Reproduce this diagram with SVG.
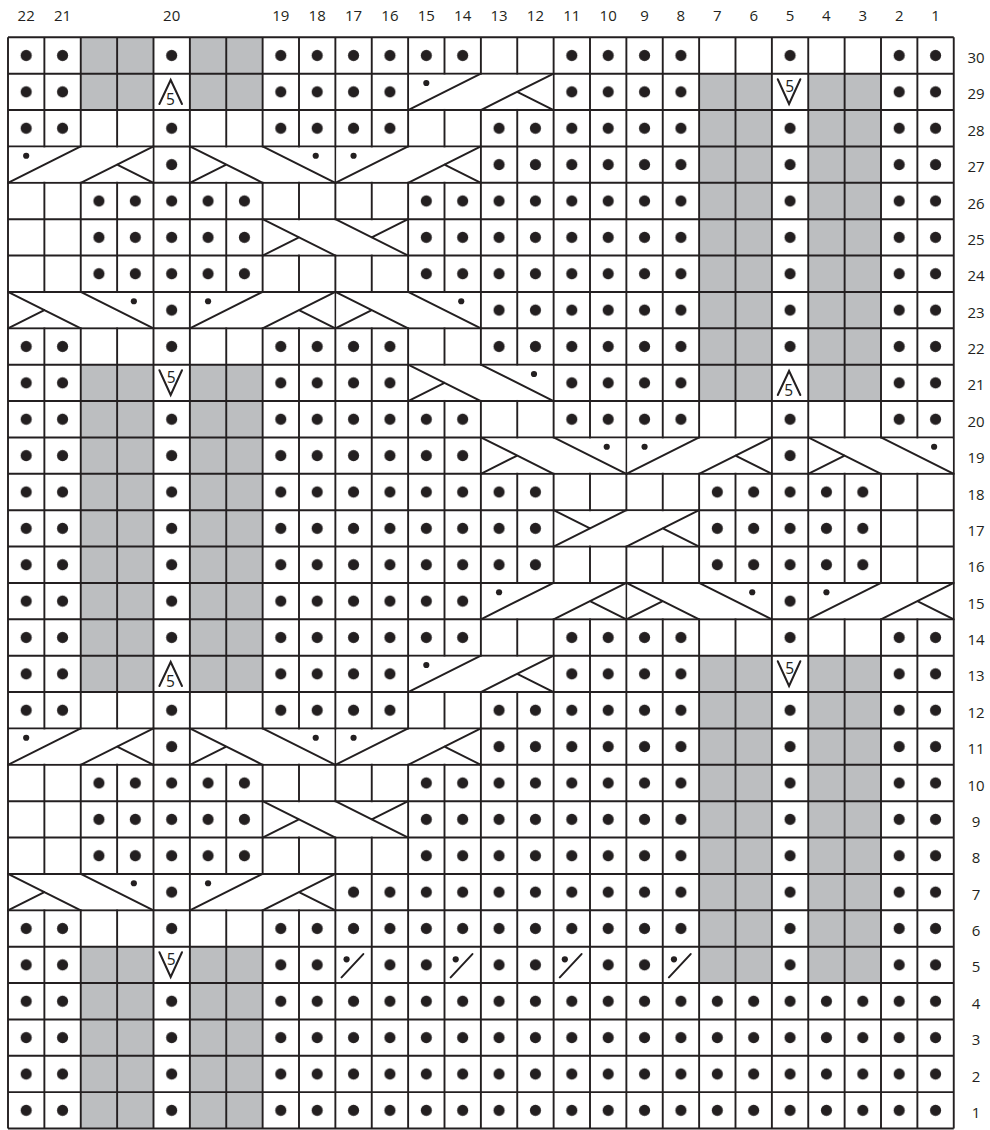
<svg xmlns="http://www.w3.org/2000/svg" xmlns:xlink="http://www.w3.org/1999/xlink" width="990" height="1130" viewBox="0 0 990 1130">
<style>
.lbl{font-family:"Open Sans","Liberation Sans",sans-serif;font-size:15px;fill:#231f20;text-anchor:middle}
.five{font-family:"Open Sans","Liberation Sans",sans-serif;font-size:15.5px;fill:#231f20;text-anchor:middle}
.g{fill:#bcbec0}
.dr{fill:url(#dots)}
.grid{fill:none;stroke:#231f20;stroke-width:1.9;vector-effect:non-scaling-stroke}
.cv{fill:#fff}
.cb{fill:none;stroke:#231f20;stroke-width:2;vector-effect:non-scaling-stroke;stroke-linecap:round}
.sd{fill:#231f20}
</style>
<defs>
<pattern id="dots" patternUnits="userSpaceOnUse" x="0" y="0" width="1" height="1">
<circle cx="0.5" cy="0.5" r="0.153" fill="#231f20"/>
</pattern>
</defs>
<rect width="990" height="1130" fill="#fff"/>
<g id="chart" transform="translate(8,37.3) scale(36.375)">
<g id="gray">
<rect class="g" x="2" y="0" width="2" height="2"/><rect class="g" x="5" y="0" width="2" height="2"/>
<rect class="g" x="2" y="9" width="2" height="9"/><rect class="g" x="5" y="9" width="2" height="9"/>
<rect class="g" x="2" y="25" width="2" height="5"/><rect class="g" x="5" y="25" width="2" height="5"/>
<rect class="g" x="19" y="1" width="2" height="9"/><rect class="g" x="22" y="1" width="2" height="9"/>
<rect class="g" x="19" y="17" width="2" height="9"/><rect class="g" x="22" y="17" width="2" height="9"/>
</g>
<g id="purl">
<rect class="dr" x="0" y="0" width="2" height="3"/><rect class="dr" x="0" y="8" width="2" height="11"/><rect class="dr" x="0" y="24" width="2" height="6"/>
<rect class="dr" x="2" y="4" width="2" height="3"/><rect class="dr" x="2" y="20" width="2" height="3"/>
<rect class="dr" x="5" y="4" width="2" height="3"/><rect class="dr" x="5" y="20" width="2" height="3"/>
<rect class="dr" x="4" y="0" width="1" height="1"/><rect class="dr" x="4" y="2" width="1" height="7"/><rect class="dr" x="4" y="10" width="1" height="7"/><rect class="dr" x="4" y="18" width="1" height="7"/><rect class="dr" x="4" y="26" width="1" height="4"/>
<rect class="dr" x="7" y="0" width="4" height="3"/><rect class="dr" x="7" y="8" width="4" height="11"/>
<rect class="dr" x="7" y="24" width="2" height="6"/>
<rect class="dr" x="9" y="23" width="1" height="2"/><rect class="dr" x="9" y="26" width="1" height="4"/>
<rect class="dr" x="10" y="23" width="1" height="7"/>
<rect class="dr" x="11" y="0" width="2" height="1"/><rect class="dr" x="11" y="4" width="2" height="3"/><rect class="dr" x="11" y="10" width="2" height="7"/>
<rect class="dr" x="11" y="20" width="1" height="10"/>
<rect class="dr" x="12" y="20" width="1" height="5"/><rect class="dr" x="12" y="26" width="1" height="4"/>
<rect class="dr" x="13" y="2" width="2" height="7"/><rect class="dr" x="13" y="12" width="2" height="3"/><rect class="dr" x="13" y="18" width="2" height="12"/>
<rect class="dr" x="15" y="0" width="4" height="11"/>
<rect class="dr" x="15" y="16" width="1" height="9"/><rect class="dr" x="15" y="26" width="1" height="4"/>
<rect class="dr" x="16" y="16" width="2" height="14"/>
<rect class="dr" x="18" y="16" width="1" height="9"/><rect class="dr" x="18" y="26" width="1" height="4"/>
<rect class="dr" x="19" y="12" width="2" height="3"/><rect class="dr" x="19" y="26" width="2" height="4"/>
<rect class="dr" x="21" y="0" width="1" height="1"/><rect class="dr" x="21" y="2" width="1" height="7"/><rect class="dr" x="21" y="10" width="1" height="7"/><rect class="dr" x="21" y="18" width="1" height="12"/>
<rect class="dr" x="22" y="12" width="2" height="3"/><rect class="dr" x="22" y="26" width="2" height="4"/>
<rect class="dr" x="24" y="0" width="2" height="11"/><rect class="dr" x="24" y="16" width="2" height="14"/>
</g>
<path id="gridlines" class="grid" d="M0 0H26M0 1H26M0 2H26M0 3H26M0 4H26M0 5H26M0 6H26M0 7H26M0 8H26M0 9H26M0 10H26M0 11H26M0 12H26M0 13H26M0 14H26M0 15H26M0 16H26M0 17H26M0 18H26M0 19H26M0 20H26M0 21H26M0 22H26M0 23H26M0 24H26M0 25H26M0 26H26M0 27H26M0 28H26M0 29H26M0 30H26M0 0V30M1 0V30M2 0V30M3 0V30M4 0V30M5 0V30M6 0V30M7 0V30M8 0V30M9 0V30M10 0V30M11 0V30M12 0V30M13 0V30M14 0V30M15 0V30M16 0V30M17 0V30M18 0V30M19 0V30M20 0V30M21 0V30M22 0V30M23 0V30M24 0V30M25 0V30M26 0V30"/>
<g id="cables">
<g id="cover">
<rect class="cv" x="11.03" y="1.03" width="3.94" height="0.94"/>
<rect class="cv" x="0.03" y="3.03" width="3.94" height="0.94"/>
<rect class="cv" x="5.03" y="3.03" width="3.94" height="0.94"/>
<rect class="cv" x="9.03" y="3.03" width="3.94" height="0.94"/>
<rect class="cv" x="7.03" y="5.03" width="3.94" height="0.94"/>
<rect class="cv" x="0.03" y="7.03" width="3.94" height="0.94"/>
<rect class="cv" x="5.03" y="7.03" width="3.94" height="0.94"/>
<rect class="cv" x="9.03" y="7.03" width="3.94" height="0.94"/>
<rect class="cv" x="11.03" y="9.03" width="3.94" height="0.94"/>
<rect class="cv" x="13.03" y="11.03" width="3.94" height="0.94"/>
<rect class="cv" x="17.03" y="11.03" width="3.94" height="0.94"/>
<rect class="cv" x="22.03" y="11.03" width="3.94" height="0.94"/>
<rect class="cv" x="15.03" y="13.03" width="3.94" height="0.94"/>
<rect class="cv" x="13.03" y="15.03" width="3.94" height="0.94"/>
<rect class="cv" x="17.03" y="15.03" width="3.94" height="0.94"/>
<rect class="cv" x="22.03" y="15.03" width="3.94" height="0.94"/>
<rect class="cv" x="11.03" y="17.03" width="3.94" height="0.94"/>
<rect class="cv" x="0.03" y="19.03" width="3.94" height="0.94"/>
<rect class="cv" x="5.03" y="19.03" width="3.94" height="0.94"/>
<rect class="cv" x="9.03" y="19.03" width="3.94" height="0.94"/>
<rect class="cv" x="7.03" y="21.03" width="3.94" height="0.94"/>
<rect class="cv" x="0.03" y="23.03" width="3.94" height="0.94"/>
<rect class="cv" x="5.03" y="23.03" width="3.94" height="0.94"/>
</g>
<path class="cb" d="M13 1L11 2M15 1L13 2M14 1.5L15 2"/>
<path class="cb" d="M2 3L0 4M4 3L2 4M3 3.5L4 4"/>
<path class="cb" d="M5 3L7 4M7 3L9 4M5 4L6 3.5"/>
<path class="cb" d="M11 3L9 4M13 3L11 4M12 3.5L13 4"/>
<path class="cb" d="M7 5L9 6M9 5L11 6M7 6L8 5.5M11 5L10 5.5"/>
<path class="cb" d="M0 7L2 8M2 7L4 8M0 8L1 7.5"/>
<path class="cb" d="M7 7L5 8M9 7L7 8M8 7.5L9 8"/>
<path class="cb" d="M9 7L11 8M11 7L13 8M9 8L10 7.5"/>
<path class="cb" d="M11 9L13 10M13 9L15 10M11 10L12 9.5"/>
<path class="cb" d="M13 11L15 12M15 11L17 12M13 12L14 11.5"/>
<path class="cb" d="M19 11L17 12M21 11L19 12M20 11.5L21 12"/>
<path class="cb" d="M22 11L24 12M24 11L26 12M22 12L23 11.5"/>
<path class="cb" d="M17 13L15 14M19 13L17 14M18 13.5L19 14M15 13L16 13.5"/>
<path class="cb" d="M15 15L13 16M17 15L15 16M16 15.5L17 16"/>
<path class="cb" d="M17 15L19 16M19 15L21 16M17 16L18 15.5"/>
<path class="cb" d="M24 15L22 16M26 15L24 16M25 15.5L26 16"/>
<path class="cb" d="M13 17L11 18M15 17L13 18M14 17.5L15 18"/>
<path class="cb" d="M2 19L0 20M4 19L2 20M3 19.5L4 20"/>
<path class="cb" d="M5 19L7 20M7 19L9 20M5 20L6 19.5"/>
<path class="cb" d="M11 19L9 20M13 19L11 20M12 19.5L13 20"/>
<path class="cb" d="M7 21L9 22M9 21L11 22M7 22L8 21.5M11 21L10 21.5"/>
<path class="cb" d="M0 23L2 24M2 23L4 24M0 24L1 23.5"/>
<path class="cb" d="M7 23L5 24M9 23L7 24M8 23.5L9 24"/>
<g id="cabledots">
<circle class="sd" cx="11.5" cy="1.256" r="0.085"/>
<circle class="sd" cx="0.5" cy="3.256" r="0.085"/>
<circle class="sd" cx="8.46" cy="3.256" r="0.085"/>
<circle class="sd" cx="9.5" cy="3.256" r="0.085"/>
<circle class="sd" cx="3.46" cy="7.256" r="0.085"/>
<circle class="sd" cx="5.5" cy="7.256" r="0.085"/>
<circle class="sd" cx="12.46" cy="7.256" r="0.085"/>
<circle class="sd" cx="14.46" cy="9.256" r="0.085"/>
<circle class="sd" cx="16.46" cy="11.256" r="0.085"/>
<circle class="sd" cx="17.5" cy="11.256" r="0.085"/>
<circle class="sd" cx="25.46" cy="11.256" r="0.085"/>
<circle class="sd" cx="13.5" cy="15.256" r="0.085"/>
<circle class="sd" cx="20.46" cy="15.256" r="0.085"/>
<circle class="sd" cx="22.5" cy="15.256" r="0.085"/>
<circle class="sd" cx="11.5" cy="17.256" r="0.085"/>
<circle class="sd" cx="0.5" cy="19.256" r="0.085"/>
<circle class="sd" cx="8.46" cy="19.256" r="0.085"/>
<circle class="sd" cx="9.5" cy="19.256" r="0.085"/>
<circle class="sd" cx="3.46" cy="23.256" r="0.085"/>
<circle class="sd" cx="5.5" cy="23.256" r="0.085"/>
</g>
</g>
<g id="decreases">
<polyline class="cb" points="4.162,1.833 4.4725,1.173 4.783,1.833"/>
<polyline class="cb" points="21.162,9.833 21.4725,9.173 21.783,9.833"/>
<polyline class="cb" points="4.162,17.833 4.4725,17.173 4.783,17.833"/>
<polyline class="cb" points="21.162,1.154 21.4725,1.833 21.783,1.154"/>
<polyline class="cb" points="4.162,9.154 4.4725,9.833 4.783,9.154"/>
<polyline class="cb" points="21.162,17.154 21.4725,17.833 21.783,17.154"/>
<polyline class="cb" points="4.162,25.154 4.4725,25.833 4.783,25.154"/>
</g>
<g id="slants">
<path class="cb" d="M9.17 25.844L9.767 25.203M12.17 25.844L12.767 25.203M15.17 25.844L15.767 25.203M18.17 25.844L18.767 25.203"/>
<circle class="sd" cx="9.308" cy="25.349" r="0.085"/>
<circle class="sd" cx="12.308" cy="25.349" r="0.085"/>
<circle class="sd" cx="15.308" cy="25.349" r="0.085"/>
<circle class="sd" cx="18.308" cy="25.349" r="0.085"/>
</g>
</g>
<g id="fives">
<text class="five" x="170.4" y="104.7">5</text>
<text class="five" x="788.8" y="395.7">5</text>
<text class="five" x="170.4" y="686.7">5</text>
<text class="five" x="789.6" y="92">5</text>
<text class="five" x="171.2" y="383">5</text>
<text class="five" x="789.6" y="674">5</text>
<text class="five" x="171.2" y="965">5</text>
</g>
<g id="col-labels">
<text class="lbl" x="26.2" y="21">22</text>
<text class="lbl" x="62.6" y="21">21</text>
<text class="lbl" x="171.7" y="21">20</text>
<text class="lbl" x="280.8" y="21">19</text>
<text class="lbl" x="317.2" y="21">18</text>
<text class="lbl" x="353.6" y="21">17</text>
<text class="lbl" x="389.9" y="21">16</text>
<text class="lbl" x="426.3" y="21">15</text>
<text class="lbl" x="462.7" y="21">14</text>
<text class="lbl" x="499.1" y="21">13</text>
<text class="lbl" x="535.4" y="21">12</text>
<text class="lbl" x="571.8" y="21">11</text>
<text class="lbl" x="608.2" y="21">10</text>
<text class="lbl" x="644.6" y="21">9</text>
<text class="lbl" x="680.9" y="21">8</text>
<text class="lbl" x="717.3" y="21">7</text>
<text class="lbl" x="753.7" y="21">6</text>
<text class="lbl" x="790.1" y="21">5</text>
<text class="lbl" x="826.4" y="21">4</text>
<text class="lbl" x="862.8" y="21">3</text>
<text class="lbl" x="899.2" y="21">2</text>
<text class="lbl" x="935.6" y="21">1</text>
</g>
<g id="row-labels">
<text class="lbl" x="976" y="63">30</text>
<text class="lbl" x="976" y="99.4">29</text>
<text class="lbl" x="976" y="135.7">28</text>
<text class="lbl" x="976" y="172.1">27</text>
<text class="lbl" x="976" y="208.5">26</text>
<text class="lbl" x="976" y="244.9">25</text>
<text class="lbl" x="976" y="281.2">24</text>
<text class="lbl" x="976" y="317.6">23</text>
<text class="lbl" x="976" y="354">22</text>
<text class="lbl" x="976" y="390.4">21</text>
<text class="lbl" x="976" y="426.7">20</text>
<text class="lbl" x="976" y="463.1">19</text>
<text class="lbl" x="976" y="499.5">18</text>
<text class="lbl" x="976" y="535.9">17</text>
<text class="lbl" x="976" y="572.2">16</text>
<text class="lbl" x="976" y="608.6">15</text>
<text class="lbl" x="976" y="645">14</text>
<text class="lbl" x="976" y="681.4">13</text>
<text class="lbl" x="976" y="717.7">12</text>
<text class="lbl" x="976" y="754.1">11</text>
<text class="lbl" x="976" y="790.5">10</text>
<text class="lbl" x="976" y="826.9">9</text>
<text class="lbl" x="976" y="863.2">8</text>
<text class="lbl" x="976" y="899.6">7</text>
<text class="lbl" x="976" y="936">6</text>
<text class="lbl" x="976" y="972.4">5</text>
<text class="lbl" x="976" y="1008.7">4</text>
<text class="lbl" x="976" y="1045.1">3</text>
<text class="lbl" x="976" y="1081.5">2</text>
<text class="lbl" x="976" y="1117.9">1</text>
</g>
</svg>
